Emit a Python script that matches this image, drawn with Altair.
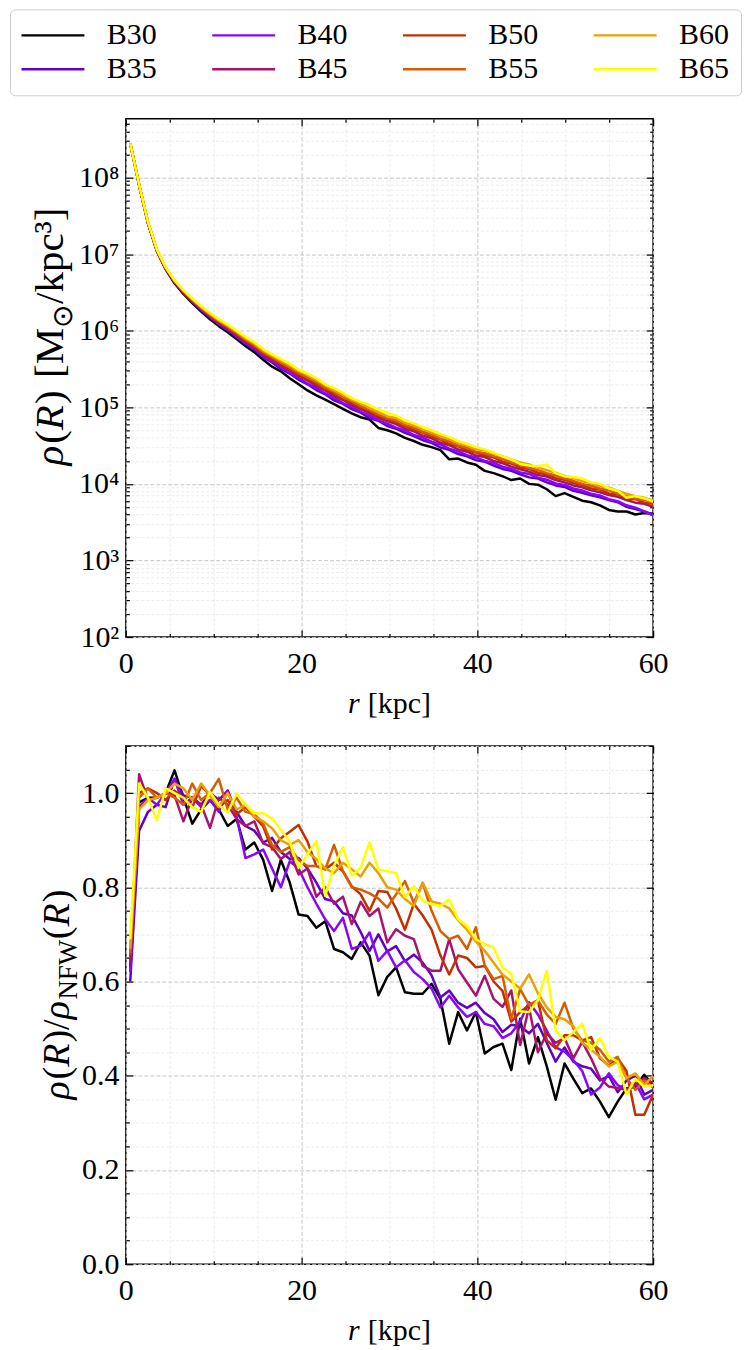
import altair as alt
import pandas as pd

FONT = "Liberation Serif"

series_names = ["B30", "B35", "B40", "B45", "B50", "B55", "B60", "B65"]
series_colors = ["#000000", "#6001c7", "#8806f9", "#a7146f", "#c13000", "#d85d00", "#eca100", "#ffff00"]
legend_order = ["B30", "B40", "B50", "B60", "B35", "B45", "B55", "B65"]

r_kpc = [0.5, 1.51, 2.52, 3.53, 4.53, 5.54, 6.55, 7.56, 8.57, 9.58,
         10.58, 11.59, 12.6, 13.61, 14.62, 15.63, 16.64, 17.64, 18.65, 19.66,
         20.67, 21.68, 22.69, 23.69, 24.7, 25.71, 26.72, 27.73, 28.74, 29.75,
         30.75, 31.76, 32.77, 33.78, 34.79, 35.8, 36.8, 37.81, 38.82, 39.83,
         40.84, 41.85, 42.86, 43.86, 44.87, 45.88, 46.89, 47.9, 48.91, 49.92,
         50.92, 51.93, 52.94, 53.95, 54.96, 55.97, 56.97, 57.98, 58.99, 60.0]

# rho / rho_NFW (bottom panel)
ratio_B30 = [0.63, 0.98, 0.99, 0.99, 1.00, 1.048, 0.99, 0.935, 0.965, 0.985,
             0.965, 0.93, 0.945, 0.88, 0.895, 0.858, 0.792, 0.858, 0.81, 0.742,
             0.739, 0.714, 0.728, 0.669, 0.662, 0.648, 0.683, 0.655, 0.571, 0.61,
             0.63, 0.577, 0.574, 0.574, 0.595, 0.563, 0.468, 0.535, 0.496, 0.535,
             0.447, 0.461, 0.468, 0.412, 0.521, 0.426, 0.482, 0.42, 0.349, 0.426,
             0.394, 0.363, 0.373, 0.345, 0.312, 0.345, 0.373, 0.377, 0.402, 0.38]
ratio_B35 = [0.60, 0.92, 0.96, 0.975, 0.97, 1.03, 0.995, 0.99, 0.975, 1.0,
             0.985, 1.005, 0.96, 0.93, 0.92, 0.895, 0.905, 0.875, 0.86, 0.862,
             0.84, 0.81, 0.775, 0.77, 0.745, 0.74, 0.705, 0.665, 0.70, 0.664,
             0.675, 0.643, 0.657, 0.64, 0.613, 0.566, 0.581, 0.555, 0.544, 0.555,
             0.533, 0.52, 0.493, 0.508, 0.505, 0.49, 0.51, 0.47, 0.43, 0.46,
             0.43, 0.42, 0.415, 0.39, 0.40, 0.365, 0.39, 0.40, 0.36, 0.37]
ratio_B40 = [0.62, 0.97, 0.99, 0.975, 1.0, 1.03, 0.975, 0.99, 0.97, 0.985,
             0.96, 1.005, 0.95, 0.862, 0.87, 0.88, 0.84, 0.80, 0.855, 0.84,
             0.80, 0.765, 0.732, 0.707, 0.735, 0.669, 0.676, 0.704, 0.644, 0.665,
             0.63, 0.645, 0.62, 0.605, 0.585, 0.545, 0.57, 0.545, 0.525, 0.535,
             0.51, 0.505, 0.48, 0.49, 0.515, 0.556, 0.53, 0.496, 0.46, 0.451,
             0.433, 0.41, 0.36, 0.375, 0.405, 0.38, 0.37, 0.385, 0.35, 0.36]
ratio_B45 = [0.64, 1.04, 0.985, 0.99, 1.0, 0.995, 0.94, 0.99, 0.975, 0.926,
             0.99, 0.975, 0.945, 0.93, 0.94, 0.893, 0.885, 0.86, 0.875, 0.827,
             0.84, 0.78, 0.80, 0.765, 0.78, 0.722, 0.769, 0.739, 0.755, 0.683,
             0.711, 0.697, 0.690, 0.633, 0.623, 0.623, 0.690, 0.626, 0.598, 0.570,
             0.612, 0.563, 0.546, 0.581, 0.465, 0.545, 0.45, 0.49, 0.47, 0.48,
             0.437, 0.472, 0.437, 0.395, 0.377, 0.374, 0.37, 0.38, 0.395, 0.384]
ratio_B50 = [0.65, 1.0, 1.01, 1.0, 0.985, 1.005, 0.99, 0.97, 1.015, 0.995,
             0.97, 0.985, 0.955, 0.97, 0.95, 0.929, 0.88, 0.904, 0.918, 0.932,
             0.897, 0.845, 0.838, 0.852, 0.834, 0.802, 0.785, 0.75, 0.792, 0.79,
             0.755, 0.71, 0.765, 0.74, 0.71, 0.655, 0.615, 0.655, 0.65, 0.63,
             0.633, 0.60, 0.58, 0.515, 0.535, 0.55, 0.56, 0.475, 0.458, 0.486,
             0.486, 0.475, 0.482, 0.437, 0.422, 0.437, 0.41, 0.317, 0.317, 0.36]
ratio_B55 = [0.66, 0.99, 1.01, 0.99, 1.0, 0.99, 0.975, 1.02, 0.985, 1.0,
             1.03, 0.965, 0.99, 0.96, 0.955, 0.935, 0.89, 0.875, 0.885, 0.858,
             0.845, 0.845, 0.838, 0.89, 0.834, 0.80, 0.795, 0.787, 0.776, 0.757,
             0.785, 0.813, 0.767, 0.809, 0.75, 0.707, 0.69, 0.697, 0.669, 0.715,
             0.634, 0.605, 0.612, 0.521, 0.584, 0.55, 0.56, 0.53, 0.51, 0.555,
             0.50, 0.475, 0.47, 0.455, 0.43, 0.44, 0.395, 0.37, 0.39, 0.375]
ratio_B60 = [0.67, 0.965, 0.985, 0.99, 1.0, 1.02, 1.01, 0.985, 1.02, 0.995,
             0.97, 1.0, 0.965, 0.975, 0.95, 0.94, 0.925, 0.90, 0.89, 0.90,
             0.875, 0.86, 0.84, 0.83, 0.852, 0.838, 0.823, 0.852, 0.83, 0.80,
             0.795, 0.775, 0.76, 0.81, 0.77, 0.765, 0.755, 0.73, 0.71, 0.685,
             0.665, 0.64, 0.615, 0.60, 0.585, 0.615, 0.575, 0.545, 0.525, 0.52,
             0.505, 0.47, 0.455, 0.44, 0.42, 0.43, 0.395, 0.405, 0.38, 0.40]
ratio_B65 = [0.69, 1.02, 0.99, 0.942, 1.01, 1.0, 0.99, 0.97, 0.96, 1.002,
             0.975, 0.958, 0.999, 0.975, 0.957, 0.957, 0.946, 0.922, 0.897, 0.841,
             0.87, 0.898, 0.782, 0.845, 0.885, 0.825, 0.841, 0.895, 0.838, 0.834,
             0.83, 0.779, 0.802, 0.771, 0.764, 0.760, 0.774, 0.732, 0.718, 0.690,
             0.679, 0.672, 0.630, 0.616, 0.537, 0.535, 0.560, 0.623, 0.496, 0.475,
             0.493, 0.510, 0.455, 0.48, 0.44, 0.43, 0.36, 0.394, 0.377, 0.38]

# log10 of rho in M_sun/kpc^3 (top panel)
log_rho_B30 = [8.447, 7.90, 7.40, 7.04, 6.80, 6.62, 6.48, 6.36, 6.25, 6.15,
               6.06, 5.98, 5.89, 5.80, 5.72, 5.62, 5.53, 5.47, 5.38, 5.30,
               5.22, 5.155, 5.10, 5.04, 4.98, 4.92, 4.87, 4.84, 4.73, 4.70,
               4.66, 4.60, 4.56, 4.51, 4.48, 4.44, 4.32, 4.33, 4.28, 4.25,
               4.17, 4.14, 4.10, 4.05, 4.07, 4.00, 3.99, 3.93, 3.84, 3.88,
               3.83, 3.78, 3.76, 3.72, 3.66, 3.64, 3.64, 3.60, 3.62, 3.61]
log_rho_B35 = [8.447, 7.903, 7.405, 7.045, 6.808, 6.63, 6.493, 6.375, 6.268, 6.17,
               6.083, 6.005, 5.918, 5.83, 5.753, 5.655, 5.585, 5.50, 5.44, 5.36,
               5.30, 5.225, 5.17, 5.09, 5.045, 4.975, 4.93, 4.86, 4.825, 4.755,
               4.72, 4.665, 4.625, 4.57, 4.535, 4.475, 4.445, 4.39, 4.36, 4.31,
               4.29, 4.24, 4.195, 4.17, 4.125, 4.085, 4.07, 4.02, 3.98, 3.96,
               3.91, 3.885, 3.85, 3.825, 3.79, 3.76, 3.70, 3.67, 3.64, 3.60]
log_rho_B40 = [8.447, 7.904, 7.407, 7.047, 6.81, 6.634, 6.498, 6.381, 6.275, 6.178,
               6.092, 6.015, 5.929, 5.842, 5.766, 5.665, 5.60, 5.525, 5.45, 5.385,
               5.31, 5.255, 5.18, 5.125, 5.055, 5.005, 4.94, 4.895, 4.83, 4.785,
               4.735, 4.695, 4.64, 4.605, 4.55, 4.515, 4.46, 4.425, 4.375, 4.345,
               4.30, 4.275, 4.225, 4.195, 4.15, 4.13, 4.08, 4.055, 4.005, 3.985,
               3.94, 3.915, 3.87, 3.85, 3.80, 3.775, 3.72, 3.69, 3.64, 3.59]
log_rho_B45 = [8.447, 7.905, 7.41, 7.05, 6.815, 6.64, 6.505, 6.39, 6.285, 6.19,
               6.105, 6.03, 5.945, 5.86, 5.785, 5.69, 5.62, 5.55, 5.48, 5.41,
               5.35, 5.28, 5.22, 5.15, 5.095, 5.03, 4.975, 4.925, 4.86, 4.82,
               4.78, 4.72, 4.685, 4.63, 4.595, 4.54, 4.505, 4.45, 4.42, 4.37,
               4.35, 4.30, 4.27, 4.225, 4.19, 4.16, 4.115, 4.095, 4.05, 4.02,
               3.98, 3.955, 3.915, 3.89, 3.855, 3.83, 3.79, 3.755, 3.74, 3.70]
log_rho_B50 = [8.447, 7.906, 7.412, 7.052, 6.819, 6.645, 6.511, 6.397, 6.293, 6.20,
               6.116, 6.042, 5.958, 5.874, 5.80, 5.705, 5.64, 5.57, 5.505, 5.43,
               5.37, 5.31, 5.24, 5.18, 5.11, 5.06, 4.995, 4.95, 4.885, 4.85,
               4.80, 4.755, 4.705, 4.67, 4.615, 4.58, 4.52, 4.49, 4.44, 4.41,
               4.37, 4.345, 4.29, 4.265, 4.215, 4.195, 4.145, 4.125, 4.075, 4.055,
               4.01, 3.985, 3.94, 3.925, 3.875, 3.86, 3.81, 3.80, 3.755, 3.74]
log_rho_B55 = [8.447, 7.907, 7.414, 7.054, 6.822, 6.649, 6.516, 6.403, 6.30, 6.208,
               6.125, 6.052, 5.969, 5.886, 5.814, 5.72, 5.655, 5.585, 5.52, 5.45,
               5.39, 5.33, 5.255, 5.205, 5.13, 5.08, 5.015, 4.97, 4.905, 4.86,
               4.83, 4.77, 4.735, 4.68, 4.645, 4.59, 4.555, 4.50, 4.47, 4.42,
               4.40, 4.36, 4.325, 4.28, 4.25, 4.21, 4.18, 4.14, 4.11, 4.07,
               4.04, 4.00, 3.975, 3.94, 3.915, 3.875, 3.84, 3.805, 3.79, 3.755]
log_rho_B60 = [8.447, 7.909, 7.417, 7.057, 6.826, 6.654, 6.523, 6.412, 6.31, 6.219,
               6.137, 6.066, 5.985, 5.903, 5.832, 5.74, 5.675, 5.61, 5.545, 5.475,
               5.42, 5.355, 5.29, 5.22, 5.165, 5.10, 5.05, 4.99, 4.94, 4.88,
               4.86, 4.80, 4.765, 4.715, 4.67, 4.625, 4.585, 4.535, 4.50, 4.455,
               4.44, 4.395, 4.36, 4.32, 4.28, 4.255, 4.21, 4.18, 4.145, 4.105,
               4.075, 4.035, 4.01, 3.97, 3.95, 3.91, 3.87, 3.84, 3.82, 3.78]
log_rho_B65 = [8.447, 7.91, 7.42, 7.06, 6.83, 6.66, 6.53, 6.42, 6.32, 6.23,
               6.15, 6.08, 6.00, 5.92, 5.85, 5.76, 5.69, 5.63, 5.57, 5.49,
               5.44, 5.38, 5.30, 5.25, 5.19, 5.12, 5.07, 5.03, 4.97, 4.93,
               4.89, 4.83, 4.79, 4.74, 4.70, 4.65, 4.61, 4.56, 4.52, 4.48,
               4.45, 4.41, 4.36, 4.32, 4.26, 4.24, 4.23, 4.25, 4.14, 4.10,
               4.09, 4.07, 4.02, 4.00, 3.94, 3.91, 3.82, 3.84, 3.81, 3.77]

ratios = {"B30": ratio_B30, "B35": ratio_B35, "B40": ratio_B40, "B45": ratio_B45,
          "B50": ratio_B50, "B55": ratio_B55, "B60": ratio_B60, "B65": ratio_B65}
log_rhos = {"B30": log_rho_B30, "B35": log_rho_B35, "B40": log_rho_B40, "B45": log_rho_B45,
            "B50": log_rho_B50, "B55": log_rho_B55, "B60": log_rho_B60, "B65": log_rho_B65}

rows = []
for name in series_names:
    for i, r in enumerate(r_kpc):
        rows.append({"series": name, "r": r, "ratio": ratios[name][i],
                     "rho": 10 ** log_rhos[name][i]})
df = pd.DataFrame(rows)

color_of = dict(zip(series_names, series_colors))
color_scale = alt.Scale(domain=legend_order, range=[color_of[s] for s in legend_order])

# ---------------- layout constants ----------------
W, H = 528, 519
GAP = 109
FS = 30          # tick labels, x titles, legend

x_scale = alt.Scale(domain=[0, 60], nice=False, zero=False)
ytop_scale = alt.Scale(type="log", domain=[100, 5.85e8], nice=False)
ybot_scale = alt.Scale(domain=[0, 1.1], nice=False, zero=False)

x_vals = list(range(0, 61, 5))
x_major = "datum.value % 20 === 0"
ylog_vals = [m * 10 ** k for k in range(2, 9) for m in range(1, 10) if m * 10 ** k <= 5.8e8]
ylog_major = "abs(log(datum.value)/LN10 - round(log(datum.value)/LN10)) < 0.000001"
ylin_vals = [round(0.05 * i, 2) for i in range(0, 23)]
ylin_major = "abs(datum.value*5 - round(datum.value*5)) < 0.000001"

sup = {2: "²", 3: "³", 4: "⁴", 5: "⁵", 6: "⁶", 7: "⁷", 8: "⁸"}
ylog_label = " : ".join([f"datum.value === {10 ** k} ? '10{sup[k]}'" for k in range(2, 9)]) + " : ''"
ylin_label = f"{ylin_major} ? format(datum.value, '.1f') : ''"
x_label = f"{x_major} ? format(datum.value, 'd') : ''"


def grid_axis(orient, values, major, label_expr, pad):
    return alt.Axis(
        orient=orient, values=values, title=None, domain=False, ticks=False,
        grid=True,
        gridColor={"condition": {"test": major, "value": "#c6c6c6"}, "value": "#ececec"},
        gridDash={"condition": {"test": major, "value": [4, 2]}, "value": [3, 2]},
        gridWidth=1,
        labelExpr=label_expr, labelFont=FONT, labelFontSize=FS, labelColor="black",
        labelOverlap=False, labelFlush=False, labelPadding=pad,
    )


def tick_axis(orient, values, major, offset):
    return alt.Axis(
        orient=orient, values=values, title=None, domain=False, labels=False, grid=False,
        ticks=True, tickColor="black", tickWidth=1.2,
        tickSize={"condition": {"test": major, "value": 7}, "value": 3.5},
        offset=offset,
    )


# approximate advance widths (em) used only to lay out mixed-style titles
WID = {" ": 0.25, "(": 0.333, ")": 0.333, "[": 0.333, "]": 0.333, "/": 0.278,
       "k": 0.5, "p": 0.5, "c": 0.444, "M": 0.889, "N": 0.722, "F": 0.556,
       "W": 0.944, "R": 0.667, "³": 0.3, "ρ": 0.5, "⊙": 0.84, "r": 0.333}
WID_IT = {"ρ": 0.5, "R": 0.611, "r": 0.389}


def seg_w(seg):
    t, s, it, sh, gap = seg
    return sum((WID_IT if it else WID).get(ch, 0.5) for ch in t) * s + gap * s


one = pd.DataFrame({"a": [0]})


def text_mark(text, size, italic, angle, x, y):
    return alt.Chart(one).mark_text(
        text=text, font=FONT, fontSize=size, fontStyle="italic" if italic else "normal",
        angle=angle, align="left", baseline="alphabetic", color="black",
    ).encode(x=alt.value(x), y=alt.value(y))


def rot_title(segments, xb, yc):
    total = sum(seg_w(s) for s in segments)
    y0 = yc + total / 2
    out, cum = [], 0.0
    for seg in segments:
        t, s, it, sh, gap = seg
        out.append(text_mark(t, s, it, 270, xb + sh, y0 - cum))
        cum += seg_w(seg)
    return out


def hor_title(segments, xc, yb):
    total = sum(seg_w(s) for s in segments)
    x0 = xc - total / 2
    out, cum = [], 0.0
    for seg in segments:
        t, s, it, sh, gap = seg
        out.append(text_mark(t, s, it, 0, x0 + cum, yb + sh))
        cum += seg_w(seg)
    return out


# (text, size, italic, baseline shift, gap after in em)
T1, S1 = 41, 28
T2, S2 = 38, 27
x_title_segs = [("r", FS, True, 0, 0.27), ("[kpc]", FS, False, 0, 0)]
top_title_segs = [("ρ", T1, True, 0, 0.03), ("(", T1, False, 0, 0), ("R", T1, True, 0, 0.03),
                  (")", T1, False, 0, 0.3), ("[M", T1, False, 0, 0),
                  ("⊙", S1, False, 9, 0.02), ("/kpc³]", T1, False, 0, 0)]
bot_title_segs = [("ρ", T2, True, 0, 0.03), ("(", T2, False, 0, 0), ("R", T2, True, 0, 0.03),
                  (")/", T2, False, 0, 0), ("ρ", T2, True, 0, 0.02), ("NFW", S2, False, 8, 0.02),
                  ("(", T2, False, 0, 0), ("R", T2, True, 0, 0.03), (")", T2, False, 0, 0)]

legend = alt.Legend(
    title=None, orient="none", legendX=-116, legendY=-109.5, columns=4, direction="horizontal",
    symbolType="M-3,0H3", symbolSize=441, symbolStrokeWidth=2.5, symbolOffset=17,
    labelOffset=39, labelFont=FONT, labelFontSize=FS, labelColor="black", labelLimit=0,
    columnPadding=49, rowPadding=4, padding=11,
    strokeColor="#cccccc", fillColor="white", cornerRadius=5,
)

tick_df = pd.DataFrame({"r": [30.0], "rho": [1e4], "ratio": [0.5]})


def panel(yfield, yscale, yvals, ymajor, ylabel, ytitle_segs, ytitle_x, ytitle_c, show_legend):
    lines = alt.Chart(df).mark_line(strokeWidth=2.5, strokeJoin="round", clip=True).encode(
        x=alt.X("r:Q", scale=x_scale, axis=grid_axis("bottom", x_vals, x_major, x_label, 11)),
        y=alt.Y(f"{yfield}:Q", scale=yscale, axis=grid_axis("left", yvals, ymajor, ylabel, 7)),
        color=alt.Color("series:N", scale=color_scale, legend=legend if show_legend else None,
                        sort=legend_order),
    )
    ticks_a = alt.Chart(tick_df).mark_point(opacity=0, size=1).encode(
        x=alt.X("r:Q", scale=x_scale, axis=tick_axis("top", x_vals, x_major, -H)),
        y=alt.Y(f"{yfield}:Q", scale=yscale, axis=tick_axis("right", yvals, ymajor, -W)),
    )
    ticks_b = alt.Chart(tick_df).mark_point(opacity=0, size=1).encode(
        x=alt.X("r:Q", scale=x_scale, axis=tick_axis("bottom", x_vals, x_major, -H)),
        y=alt.Y(f"{yfield}:Q", scale=yscale, axis=tick_axis("left", yvals, ymajor, -W)),
    )
    titles = hor_title(x_title_segs, W / 2, H + 76) + rot_title(ytitle_segs, ytitle_x, ytitle_c)
    return alt.layer(lines, ticks_a, ticks_b, *titles).properties(width=W, height=H)


top = panel("rho", ytop_scale, ylog_vals, ylog_major, ylog_label, top_title_segs, -63, 218, True)
bottom = panel("ratio", ybot_scale, ylin_vals, ylin_major, ylin_label, bot_title_segs, -57, 249, False)

chart = alt.vconcat(top, bottom, spacing=GAP, bounds="flush").properties(
    padding={"left": 1, "top": 0, "right": 0, "bottom": 0},
    background="white",
).configure_view(stroke="black", strokeWidth=1.5)

chart.save("out.html", embed_options={"renderer": "svg", "actions": False})
